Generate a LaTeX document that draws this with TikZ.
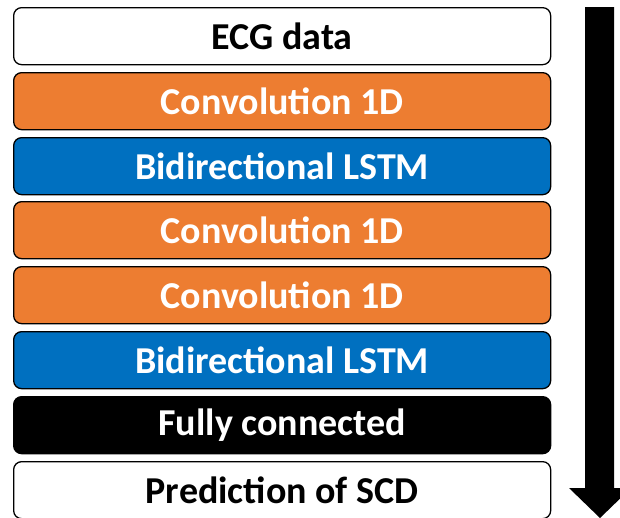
\documentclass[tikz,border=0pt]{standalone}
\usepackage{fontspec}
\setmainfont{Carlito}
\definecolor{orng}{HTML}{ED7D31}
\definecolor{blu}{HTML}{0070C0}
\begin{document}
\begin{tikzpicture}[x=1pt,y=-1pt,
  layer/.style={draw=black, line width=1.3pt, rounded corners=8pt,
    minimum width=537pt, minimum height=57pt, inner sep=0pt,
    font=\fontsize{38}{41}\selectfont\bfseries, anchor=north west},
  plain/.style={layer, fill=white, text=black},
  conv/.style={layer, fill=orng, text=white},
  lstm/.style={layer, fill=blu, text=white},
  dense/.style={layer, fill=black, text=white},
  flow/.style={fill=black}]
\useasboundingbox (0,0) rectangle (620,517);
\node[plain] (n1) at (13,7)   {ECG data};
\node[conv]  (n2) at (13,72)  {Convolution 1D};
\node[lstm]  (n3) at (13,137) {Bidirectional LSTM};
\node[conv]  (n4) at (13,201) {Convolution 1D};
\node[conv]  (n5) at (13,266) {Convolution 1D};
\node[lstm]  (n6) at (13,331) {Bidirectional LSTM};
\node[dense] (n7) at (13,396) {Fully connected};
\node[plain] (n8) at (13,461) {Prediction of SCD};
\fill[flow] (585,7) -- (614,7) -- (614,488) -- (631,488) -- (600,518)
  -- (569,488) -- (585,488) -- cycle;
\end{tikzpicture}
\end{document}
